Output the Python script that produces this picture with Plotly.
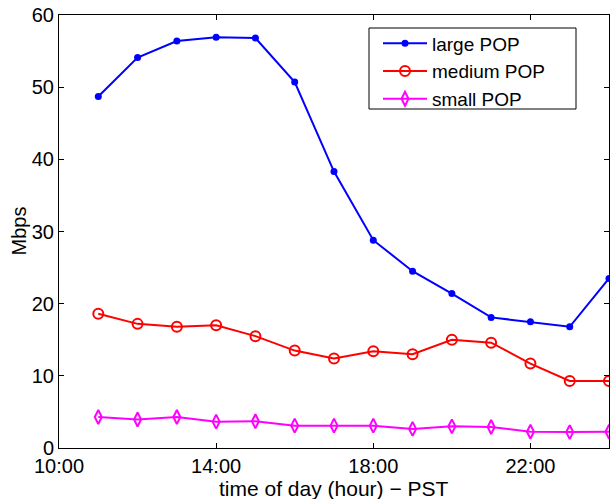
import plotly.graph_objects as go

hours = [11, 12, 13, 14, 15, 16, 17, 18, 19, 20, 21, 22, 23, 24]
large_pop = [48.7, 54.1, 56.4, 56.9, 56.8, 50.7, 38.3, 28.8, 24.5, 21.4, 18.1, 17.5, 16.8, 23.5]
medium_pop = [18.6, 17.2, 16.8, 17.0, 15.5, 13.5, 12.4, 13.4, 13.0, 15.0, 14.6, 11.7, 9.3, 9.3]
small_pop = [4.3, 3.95, 4.3, 3.65, 3.7, 3.1, 3.1, 3.1, 2.65, 3.0, 2.9, 2.25, 2.2, 2.25]
x_tickvals = [10, 14, 18, 22]
x_ticktext = ["10:00", "14:00", "18:00", "22:00"]
y_tickvals = [0, 10, 20, 30, 40, 50, 60]
x_title = "time of day (hour) \u2212 PST"
y_title = "Mbps"

FONT = "Liberation Sans, Arial, Helvetica, sans-serif"

W, H = 610, 499
ML, MR, MT, MB = 59, 1, 15, 51
PW, PH = W - ML - MR, H - MT - MB


def px_x(px):
    return (px - ML) / PW


def px_y(py):
    return (MT + PH - py) / PH


fig = go.Figure()
fig.add_trace(go.Scatter(x=hours, y=large_pop, name="large POP", mode="lines+markers",
                         line=dict(color="#0000FF", width=2),
                         marker=dict(symbol="circle", size=7, color="#0000FF")))
fig.add_trace(go.Scatter(x=hours, y=medium_pop, name="medium POP", mode="lines+markers",
                         line=dict(color="#FF0000", width=2),
                         marker=dict(symbol="circle-open", size=10, color="#FF0000",
                                     line=dict(width=2, color="#FF0000"))))
fig.add_trace(go.Scatter(x=hours, y=small_pop, name="small POP", mode="lines+markers",
                         line=dict(color="#FF00FF", width=2),
                         marker=dict(symbol="diamond-tall-open", size=10, color="#FF00FF",
                                     line=dict(width=2, color="#FF00FF"))))

axis_common = dict(showgrid=False, zeroline=False, showline=True, linecolor="black",
                   linewidth=1, mirror="ticks", ticks="inside", ticklen=5,
                   tickcolor="black", tickwidth=1, automargin=False,
                   tickfont=dict(family=FONT, size=20, color="black"))

fig.update_xaxes(range=[10, 24], tickmode="array", tickvals=x_tickvals, ticktext=x_ticktext,
                 **axis_common)
fig.update_yaxes(range=[0, 60], tickmode="array", tickvals=y_tickvals,
                 **axis_common)

fig.add_annotation(text=x_title, xref="paper", yref="paper", x=0.5, y=px_y(488),
                   xanchor="center", yanchor="middle", showarrow=False,
                   font=dict(family=FONT, size=21, color="black"))
fig.add_annotation(text=y_title, xref="paper", yref="paper", x=px_x(18), y=0.5,
                   xanchor="center", yanchor="middle", showarrow=False, textangle=-90,
                   font=dict(family=FONT, size=20, color="black"))

# legend frame
fig.add_shape(type="rect", xref="paper", yref="paper",
              x0=px_x(369), x1=px_x(576), y0=px_y(109), y1=px_y(28),
              line=dict(color="black", width=1), fillcolor="white", layer="above")

fig.update_layout(
    width=W, height=H,
    margin=dict(l=ML, r=MR, t=MT, b=MB, autoexpand=False),
    paper_bgcolor="white", plot_bgcolor="white",
    font=dict(family=FONT, size=20, color="black"),
    showlegend=True,
    legend=dict(x=px_x(378), y=px_y(24.5), xanchor="left", yanchor="top",
                bgcolor="rgba(0,0,0,0)", borderwidth=0,
                font=dict(family=FONT, size=19, color="black"),
                itemwidth=44, tracegroupgap=0),
)

fig.write_html("out.html", config={"displayModeBar": False},
               post_script="document.body.style.margin='0';")
